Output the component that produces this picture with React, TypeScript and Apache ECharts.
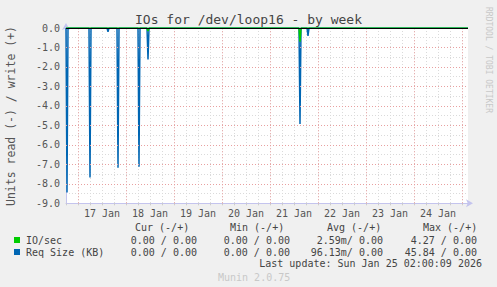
import { useEffect, useRef } from 'react';
import * as echarts from 'echarts';

const TITLE = 'IOs for /dev/loop16 - by week';
const Y_NAME = 'Units read (-) / write (+)';
const SIDE_TEXT = 'RRDTOOL / TOBI OETIKER';
// x positions are hours relative to 17 Jan 00:00
const X_MIN = -6;
const X_MAX = 195;
const DAY_LABELS = ['17 Jan', '18 Jan', '19 Jan', '20 Jan', '21 Jan', '22 Jan', '23 Jan', '24 Jan'];
const DAY_STARTS = [0, 24, 48, 72, 96, 120, 144, 168, 192];
const Y_MAJOR = [-9, -8, -7, -6, -5, -4, -3, -2, -1];

// Req Size (KB), read side (drawn negative)
const reqRead: [number, number][] = [
  [-6, 0], [-5.5, -8.45], [-5, 0],
  [5.5, 0], [6, -7.67], [6.5, 0],
  [14.5, 0], [15, -0.2], [15.5, 0],
  [19.5, 0], [20, -7.17], [20.5, 0],
  [30, 0], [30.5, -7.12], [31, 0],
  [34.5, 0], [35, -1.61], [35.5, 0],
  [110.5, 0], [111, -4.93], [111.5, 0],
  [114.5, 0], [115, -0.41], [115.5, 0],
  [195, 0],
];
// IO/sec, read side (drawn negative)
const ioRead: [number, number][] = [
  [-6, 0], [34.5, 0], [35, -0.15], [35.5, 0],
  [110.5, 0], [111, -0.7], [111.5, 0], [195, 0],
];

const LEGEND_HEAD = ['Cur (-/+)', 'Min (-/+)', 'Avg (-/+)', 'Max (-/+)'];
const LEGEND_ROWS = [
  { name: 'IO/sec', color: '#00cc00', values: ['0.00 / 0.00', '0.00 / 0.00', '2.59m/ 0.00', '4.27 / 0.00'] },
  { name: 'Req Size (KB)', color: '#0066b3', values: ['0.00 / 0.00', '0.00 / 0.00', '96.13m/ 0.00', '45.84 / 0.00'] },
];
const LAST_UPDATE = 'Last update: Sun Jan 25 02:00:09 2026';
const MUNIN = 'Munin 2.0.75';

const MONO = 'DejaVu Sans Mono';

export default function App() {
  const ref = useRef<HTMLDivElement>(null);
  useEffect(() => {
    if (!ref.current) return;
    const chart = echarts.init(ref.current, null, { renderer: 'svg' });
    const headX = [135, 230, 327, 423];
    const valRight = [197, 290, 383, 477];
    const graphics: any[] = [
      { type: 'text', x: 248.5, y: 19, style: { text: TITLE, font: `13px "${MONO}"`, fill: '#444', textAlign: 'center', textVerticalAlign: 'middle' } },
      { type: 'text', x: 11, y: 116, rotation: Math.PI / 2, style: { text: Y_NAME, font: `11.5px "${MONO}"`, fill: '#555', textAlign: 'center', textVerticalAlign: 'middle' } },
      { type: 'text', x: 488, y: 60, rotation: -Math.PI / 2, style: { text: SIDE_TEXT, font: `8px "${MONO}"`, fill: '#c8c8c8', textAlign: 'center', textVerticalAlign: 'middle' } },
      { type: 'text', x: 482, y: 263, style: { text: LAST_UPDATE, font: `10px "${MONO}"`, fill: '#444', textAlign: 'right', textVerticalAlign: 'middle' } },
      { type: 'text', x: 218, y: 277, style: { text: MUNIN, font: `10px "${MONO}"`, fill: '#c8c8c8', textAlign: 'left', textVerticalAlign: 'middle' } },
    ];
    LEGEND_HEAD.forEach((h, i) => {
      graphics.push({ type: 'text', x: headX[i], y: 227, style: { text: h, font: `10px "${MONO}"`, fill: '#444', textAlign: 'left', textVerticalAlign: 'middle' } });
    });
    LEGEND_ROWS.forEach((r, j) => {
      const y = 240 + j * 12;
      graphics.push({ type: 'rect', shape: { x: 14, y: y - 3, width: 6, height: 6 }, style: { fill: r.color } });
      graphics.push({ type: 'text', x: 26, y, style: { text: r.name, font: `10px "${MONO}"`, fill: '#444', textAlign: 'left', textVerticalAlign: 'middle' } });
      r.values.forEach((v, i) => {
        graphics.push({ type: 'text', x: valRight[i], y, style: { text: v, font: `10px "${MONO}"`, fill: '#444', textAlign: 'right', textVerticalAlign: 'middle' } });
      });
    });

    const gridStyle = { color: '#e8a0a0', type: [1, 2] as any, width: 1 };
    chart.setOption({
      animation: false,
      backgroundColor: '#f0f0f0',
      grid: { left: 66, top: 28, width: 402, height: 175.3, show: true, backgroundColor: '#ffffff', borderWidth: 0 },
      xAxis: {
        type: 'value', min: X_MIN, max: X_MAX, interval: 6,
        axisLine: { show: true, onZero: false, lineStyle: { color: '#c4c4ee' }, symbol: ['none', 'arrow'], symbolSize: [6, 7], symbolOffset: [0, 5] },
        axisTick: { show: true, length: 2, lineStyle: { color: '#cccccc' } },
        axisLabel: {
          fontFamily: MONO, fontSize: 10, color: '#555', margin: 5,
          formatter: (v: number) => {
            const r = ((v % 24) + 24) % 24;
            if (Math.abs(r - 12) < 1e-6) return DAY_LABELS[Math.round((v - 12) / 24)] ?? '';
            return '';
          },
        },
        splitLine: { show: true, showMinLine: false, showMaxLine: false, lineStyle: { color: '#dadada', type: [1, 2] } },
      },
      yAxis: {
        type: 'value', min: -9, max: 0, interval: 0.5,
        axisLine: { show: true, onZero: false, lineStyle: { color: '#c4c4ee' }, symbol: ['none', 'arrow'], symbolSize: [6, 7], symbolOffset: [0, 5] },
        axisTick: { show: false },
        axisLabel: {
          fontFamily: MONO, fontSize: 10, color: '#555', margin: 6,
          formatter: (v: number) => (Math.abs(v - Math.round(v)) < 1e-6 ? Math.round(v).toFixed(1) : ''),
        },
        splitLine: { show: true, showMinLine: false, showMaxLine: false, lineStyle: { color: '#dadada', type: [1, 2] } },
      },
      series: [
        {
          type: 'line', data: [[X_MIN, 0]], showSymbol: false, lineStyle: { width: 0 }, z: 1, silent: true,
          markLine: {
            silent: true, symbol: ['none', 'none'], label: { show: false }, animation: false,
            lineStyle: gridStyle,
            data: [
              ...DAY_STARTS.map((d) => ({ xAxis: d })),
              ...Y_MAJOR.slice(1).map((v) => ({ yAxis: v })),
            ],
          },
        },
        {
          name: 'Req Size (KB)', type: 'line', data: reqRead, showSymbol: false, z: 3,
          lineStyle: { color: '#0066b3', width: 1.5 }, itemStyle: { color: '#0066b3' },
        },
        {
          name: 'IO/sec', type: 'line', data: ioRead, showSymbol: false, z: 4,
          lineStyle: { color: '#00cc00', width: 1.5 }, itemStyle: { color: '#00cc00' },
          markLine: {
            silent: true, symbol: ['none', 'none'], label: { show: false }, animation: false,
            lineStyle: { color: '#000000', type: 'solid', width: 1 },
            data: [{ yAxis: 0 }],
          },
        },
      ],
      graphic: graphics,
    });
    return () => chart.dispose();
  }, []);
  return <div ref={ref} style={{ width: 497, height: 287, position: 'absolute', left: 0, top: 0 }} />;
}
